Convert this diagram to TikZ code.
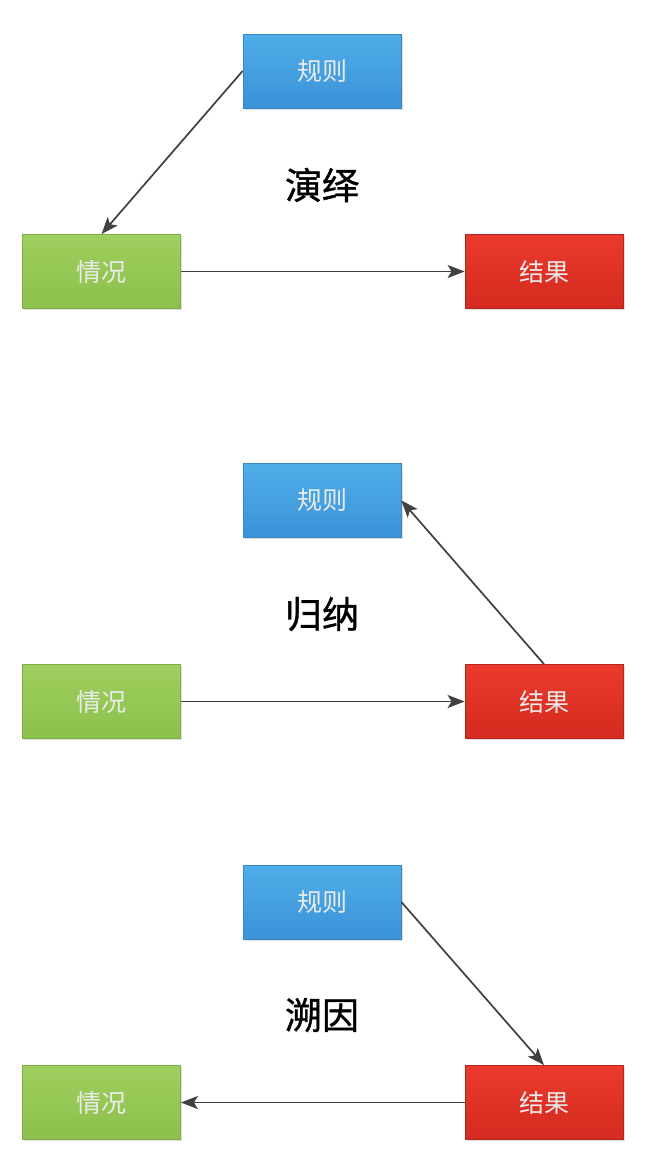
\documentclass[tikz,border=0pt]{standalone}
\usepackage{fontspec}
\newfontfamily\cjk{Noto Sans CJK SC}
\newfontfamily\cjkt[FakeBold=1]{Noto Sans CJK SC}
\usetikzlibrary{arrows.meta,shadows}
\definecolor{bluetop}{HTML}{4FAEE8}
\definecolor{bluebot}{HTML}{3B92D8}
\definecolor{blueline}{HTML}{3A86C4}
\definecolor{greentop}{HTML}{9FCF5E}
\definecolor{greenbot}{HTML}{8CC04C}
\definecolor{greenline}{HTML}{7FAE45}
\definecolor{redtop}{HTML}{EA3A2C}
\definecolor{redbot}{HTML}{D42A1F}
\definecolor{redline}{HTML}{B3261C}
\definecolor{arrowgray}{HTML}{404040}
\tikzset{
  x=1pt,y=-1pt,
  boxbase/.style={minimum width=158pt,minimum height=74pt,inner sep=0pt,
    font=\cjk\fontsize{25}{29}\selectfont,text=white!92!black,line width=0.8pt,
    drop shadow={shadow xshift=1.5pt,shadow yshift=-1.5pt,opacity=0.25}},
  rulebox/.style={boxbase,draw=blueline,top color=bluetop,bottom color=bluebot},
  casebox/.style={boxbase,draw=greenline,top color=greentop,bottom color=greenbot},
  resbox/.style={boxbase,draw=redline,top color=redtop,bottom color=redbot},
  title/.style={font=\cjkt\fontsize{37}{42}\selectfont,text=black},
  conn/.style={draw=arrowgray,line width=1.7pt,-{Stealth[length=17pt,width=13pt,inset=4pt]}}
}
\begin{document}
\begin{tikzpicture}
\useasboundingbox[fill=white] (0,0) rectangle (656,1162);
% Deduction
\node[rulebox] (r1) at (322,71) {规则};
\node[casebox] (c1) at (101.5,271.5) {情况};
\node[resbox]  (s1) at (544,271.5) {结果};
\node[title]   (t1) at (322,185) {演绎};
\draw[conn] (r1.west) -- (c1.north);
\draw[conn] (c1.east) -- (s1.west);
% Induction
\node[rulebox] (r2) at (322,500.5) {规则};
\node[casebox] (c2) at (101.5,701.5) {情况};
\node[resbox]  (s2) at (544,701.5) {结果};
\node[title]   (t2) at (322,614) {归纳};
\draw[conn] (s2.north) -- (r2.east);
\draw[conn] (c2.east) -- (s2.west);
% Abduction
\node[rulebox] (r3) at (322,902) {规则};
\node[casebox] (c3) at (101.5,1102.5) {情况};
\node[resbox]  (s3) at (544,1102.5) {结果};
\node[title]   (t3) at (322,1015) {溯因};
\draw[conn] (r3.east) -- (s3.north);
\draw[conn] (s3.west) -- (c3.east);
\end{tikzpicture}
\end{document}
